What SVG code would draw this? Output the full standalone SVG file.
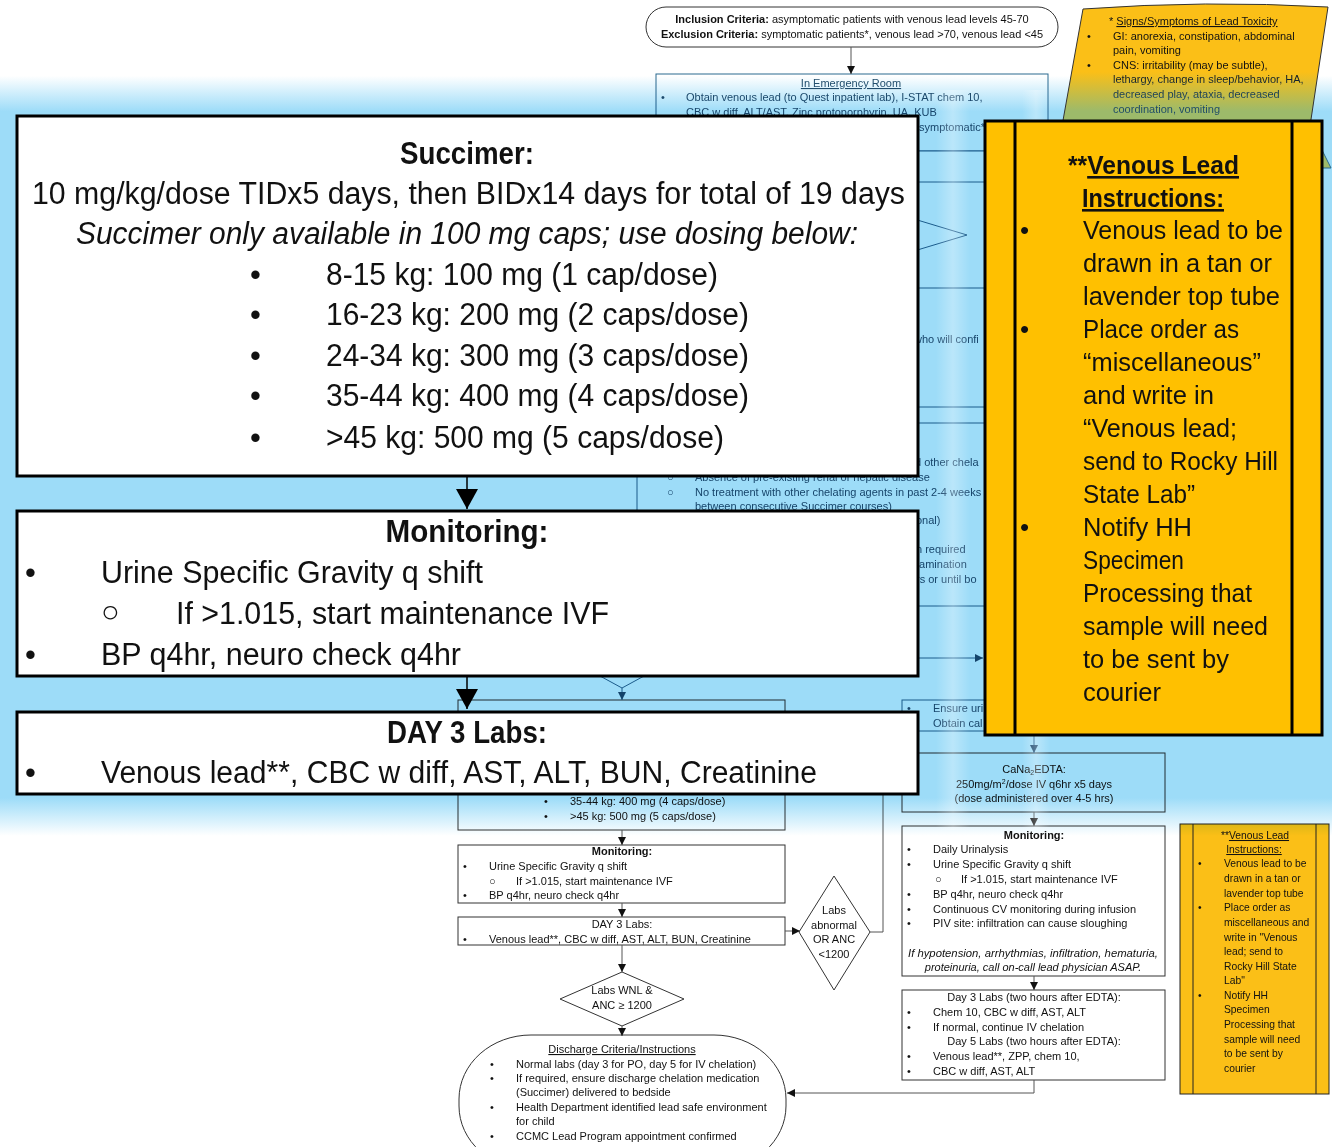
<svg xmlns="http://www.w3.org/2000/svg" width="1332" height="1147" viewBox="0 0 1332 1147">
<defs>
<style>
text{font-family:"Liberation Sans",Arial,sans-serif;fill:#111}
.s{font-size:11px}
.ys{font-size:10.3px}
.c{text-anchor:middle}
.b{font-weight:bold}
.u{text-decoration:underline}
.i{font-style:italic}
.dim{fill:#24506e}
.st{fill:url(#signtext)}
.big{font-size:31px}
.yb{font-size:26px}
.box{fill:#fff;stroke:#333;stroke-width:1}
.dbox{fill:#fff;stroke:#2a6a90;stroke-width:1}
.ov{fill:#fff;stroke:#000;stroke-width:3}
.yel{fill:#ffc000;stroke:#000;stroke-width:3}
.ysm{fill:#fbbf17;stroke:#222;stroke-width:1}
.ln{stroke:#555;stroke-width:1;fill:none}
.dln{stroke:#2a6a90;stroke-width:1;fill:none}
.blk{stroke:#000;stroke-width:1.5;fill:none}
</style>
<marker id="ah" viewBox="0 0 8 8" refX="8" refY="4" markerWidth="8" markerHeight="8" markerUnits="userSpaceOnUse" orient="auto"><path d="M0,0 L8,4 L0,8 z" fill="#111"/></marker>
<marker id="ahd" viewBox="0 0 8 8" refX="8" refY="4" markerWidth="8" markerHeight="8" markerUnits="userSpaceOnUse" orient="auto"><path d="M0,0 L8,4 L0,8 z" fill="#1f4e6e"/></marker>
<marker id="ahb" viewBox="0 0 20 22" refX="20" refY="11" markerWidth="20" markerHeight="22" markerUnits="userSpaceOnUse" orient="auto"><path d="M0,0 L20,11 L0,22 z" fill="#000"/></marker>
<linearGradient id="band" gradientUnits="userSpaceOnUse" x1="0" y1="60" x2="0" y2="850">
<stop offset="0.02" stop-color="#ffffff"/>
<stop offset="0.065" stop-color="#9ddcf8"/>
<stop offset="0.934" stop-color="#9ddcf8"/>
<stop offset="0.982" stop-color="#ffffff"/>
</linearGradient>
<linearGradient id="streak" x1="0" y1="0" x2="1" y2="0">
<stop offset="0" stop-color="#ffffff" stop-opacity="0"/>
<stop offset="0.5" stop-color="#ffffff" stop-opacity="0.3"/>
<stop offset="1" stop-color="#ffffff" stop-opacity="0"/>
</linearGradient>
<linearGradient id="signfill" gradientUnits="userSpaceOnUse" x1="0" y1="60" x2="0" y2="120">
<stop offset="0.2" stop-color="#fbbf17"/>
<stop offset="0.85" stop-color="#9dba6a"/>
</linearGradient>
<linearGradient id="signtext" gradientUnits="userSpaceOnUse" x1="0" y1="70" x2="0" y2="100">
<stop offset="0" stop-color="#111"/>
<stop offset="1" stop-color="#1d4a66"/>
</linearGradient>
</defs>
<rect x="0" y="0" width="1332" height="1147" fill="#fff"/>

<!-- underlying flowchart nodes -->
<g id="inclusion">
<rect x="646" y="7" width="412" height="40" rx="20" ry="20" class="box"/>
<text class="s c" x="852" y="23"><tspan class="b">Inclusion Criteria:</tspan> asymptomatic patients with venous lead levels 45-70</text>
<text class="s c" x="852" y="38"><tspan class="b">Exclusion Criteria:</tspan>  symptomatic patients*, venous lead &gt;70, venous lead &lt;45</text>
</g>
<g id="er">
<rect x="656" y="74" width="392" height="77" class="dbox"/>
<text class="s c u dim" x="851" y="87">In Emergency Room</text>
<text class="s dim" x="661" y="101">•</text>
<text class="s dim" x="686" y="101">Obtain venous lead (to Quest inpatient lab), I-STAT chem 10,</text>
<text class="s dim" x="686" y="116">CBC w diff, ALT/AST, Zinc protoporphyrin, UA, KUB</text>
<text class="s dim" x="919" y="131">symptomatic*</text>
</g>
<g id="hidden-box1"><rect x="640" y="151" width="400" height="31" class="dbox"/></g>
<g id="hidden-diamond1"><polygon points="851,200 967,235 851,270 735,235" class="dbox"/></g>
<g id="hidden-box2">
<rect x="640" y="288" width="400" height="119" class="dbox"/>
<text class="s dim" x="914" y="343">who will confi</text>
</g>
<g id="hidden-box3">
<rect x="637" y="423" width="403" height="183" class="dbox"/>
<text class="s dim" x="915" y="466">d other chela</text>
<text class="s dim" x="667" y="481" font-size="8">○</text>
<text class="s dim" x="695" y="481">Absence of pre-existing renal or hepatic disease</text>
<text class="s dim" x="667" y="496" font-size="8">○</text>
<text class="s dim" x="695" y="496">No treatment with other chelating agents in past 2-4 weeks</text>
<text class="s dim" x="695" y="510">between consecutive Succimer courses)</text>
<text class="s dim" x="916" y="524">onal)</text>
<text class="s dim" x="916" y="553">n required</text>
<text class="s dim" x="916" y="568">tamination</text>
<text class="s dim" x="916" y="583">rs or until bo</text>
</g>
<g id="hidden-diamond2"><polygon points="622,640 666,664 622,688 578,664" class="dbox"/></g>
<g id="ensure">
<rect x="902" y="700" width="110" height="31" class="dbox"/>
<text class="s dim" x="907" y="712">•</text>
<text class="s dim" x="933" y="712">Ensure uri</text>
<text class="s dim" x="933" y="727">Obtain cal</text>
</g>
<g id="succimer-small">
<rect x="458" y="700" width="327" height="130" class="box"/>
<text class="s" x="544" y="805">•</text><text class="s" x="570" y="805">35-44 kg: 400 mg (4 caps/dose)</text>
<text class="s" x="544" y="820">•</text><text class="s" x="570" y="820">&gt;45 kg: 500 mg (5 caps/dose)</text>
</g>
<g id="monitoring-small">
<rect x="458" y="845" width="327" height="58" class="box"/>
<text class="s c b" x="622" y="855">Monitoring:</text>
<text class="s" x="463" y="870">•</text><text class="s" x="489" y="870">Urine Specific Gravity q shift</text>
<text class="s" x="489" y="885" font-size="8">○</text><text class="s" x="516" y="885">If &gt;1.015, start maintenance IVF</text>
<text class="s" x="463" y="899">•</text><text class="s" x="489" y="899">BP q4hr, neuro check q4hr</text>
</g>
<g id="day3-small">
<rect x="458" y="917" width="327" height="28" class="box"/>
<text class="s c" x="622" y="928">DAY 3 Labs:</text>
<text class="s" x="463" y="943">•</text><text class="s" x="489" y="943">Venous lead**, CBC w diff, AST, ALT, BUN, Creatinine</text>
</g>
<g id="labs-abnormal">
<polygon points="834,876 870,932 834,990 799,932" class="box"/>
<text class="s c" x="834" y="914">Labs</text>
<text class="s c" x="834" y="929">abnormal</text>
<text class="s c" x="834" y="943">OR ANC</text>
<text class="s c" x="834" y="958">&lt;1200</text>
</g>
<g id="labs-wnl">
<polygon points="560,999 622,972 684,999 622,1026" class="box"/>
<text class="s c" x="622" y="994">Labs WNL &amp;</text>
<text class="s c" x="622" y="1009">ANC ≥ 1200</text>
</g>
<g id="discharge">
<rect x="459" y="1035" width="327" height="135" rx="72" ry="64" class="box"/>
<text class="s c u" x="622" y="1053">Discharge Criteria/Instructions</text>
<text class="s" x="490" y="1068">•</text><text class="s" x="516" y="1068">Normal labs (day 3 for PO, day 5 for IV chelation)</text>
<text class="s" x="490" y="1082">•</text><text class="s" x="516" y="1082">If required, ensure discharge chelation medication</text>
<text class="s" x="516" y="1096">(Succimer) delivered to bedside</text>
<text class="s" x="490" y="1111">•</text><text class="s" x="516" y="1111">Health Department identified lead safe environment</text>
<text class="s" x="516" y="1125">for child</text>
<text class="s" x="490" y="1140">•</text><text class="s" x="516" y="1140">CCMC Lead Program appointment confirmed</text>
</g>
<g id="cana">
<rect x="902" y="753" width="263" height="59" class="box"/>
<text class="s c" x="1034" y="773">CaNa<tspan font-size="7" dy="2">2</tspan><tspan dy="-2">EDTA:</tspan></text>
<text class="s c" x="1034" y="788">250mg/m<tspan font-size="7" dy="-4">2</tspan><tspan dy="4">/dose IV q6hr x5 days</tspan></text>
<text class="s c" x="1034" y="802">(dose administered over 4-5 hrs)</text>
</g>
<g id="monitoring-iv">
<rect x="902" y="826" width="263" height="150" class="box"/>
<text class="s c b" x="1034" y="839">Monitoring:</text>
<text class="s" x="907" y="853">•</text><text class="s" x="933" y="853">Daily Urinalysis</text>
<text class="s" x="907" y="868">•</text><text class="s" x="933" y="868">Urine Specific Gravity q shift</text>
<text class="s" x="935" y="883" font-size="8">○</text><text class="s" x="961" y="883">If &gt;1.015, start maintenance IVF</text>
<text class="s" x="907" y="898">•</text><text class="s" x="933" y="898">BP q4hr, neuro check q4hr</text>
<text class="s" x="907" y="913">•</text><text class="s" x="933" y="913">Continuous CV monitoring during infusion</text>
<text class="s" x="907" y="927">•</text><text class="s" x="933" y="927">PIV site: infiltration can cause sloughing</text>
<text class="s c i" x="1033" y="957" textLength="250" lengthAdjust="spacingAndGlyphs">If hypotension, arrhythmias, infiltration, hematuria,</text>
<text class="s c i" x="1033" y="971">proteinuria, call on-call lead physician ASAP.</text>
</g>
<g id="day35-labs">
<rect x="902" y="990" width="263" height="90" class="box"/>
<text class="s c" x="1034" y="1001">Day 3 Labs (two hours after EDTA):</text>
<text class="s" x="907" y="1016">•</text><text class="s" x="933" y="1016">Chem 10, CBC w diff, AST, ALT</text>
<text class="s" x="907" y="1031">•</text><text class="s" x="933" y="1031">If normal, continue IV chelation</text>
<text class="s c" x="1034" y="1045">Day 5 Labs (two hours after EDTA):</text>
<text class="s" x="907" y="1060">•</text><text class="s" x="933" y="1060">Venous lead**, ZPP, chem 10,</text>
<text class="s" x="907" y="1075">•</text><text class="s" x="933" y="1075">CBC w diff, AST, ALT</text>
</g>
<g id="venous-small">
<rect x="1180" y="824" width="149" height="270" class="ysm"/>
<line x1="1193" y1="824" x2="1193" y2="1094" stroke="#222"/>
<line x1="1316" y1="824" x2="1316" y2="1094" stroke="#222"/>
<text class="ys c" x="1255" y="839">**<tspan class="u">Venous Lead</tspan></text>
<text class="ys c u" x="1254" y="853">Instructions:</text>
<text class="ys" x="1198" y="867">•</text><text class="ys" x="1224" y="867">Venous lead to be</text>
<text class="ys" x="1224" y="882">drawn in a tan or</text>
<text class="ys" x="1224" y="897">lavender top tube</text>
<text class="ys" x="1198" y="911">•</text><text class="ys" x="1224" y="911">Place order as</text>
<text class="ys" x="1224" y="926">miscellaneous and</text>
<text class="ys" x="1224" y="941">write in "Venous</text>
<text class="ys" x="1224" y="955">lead; send to</text>
<text class="ys" x="1224" y="970">Rocky Hill State</text>
<text class="ys" x="1224" y="984">Lab"</text>
<text class="ys" x="1198" y="999">•</text><text class="ys" x="1224" y="999">Notify HH</text>
<text class="ys" x="1224" y="1013">Specimen</text>
<text class="ys" x="1224" y="1028">Processing that</text>
<text class="ys" x="1224" y="1043">sample will need</text>
<text class="ys" x="1224" y="1057">to be sent by</text>
<text class="ys" x="1224" y="1072">courier</text>
</g>

<!-- connectors -->
<g id="connectors">
<line x1="851" y1="47" x2="851" y2="74" class="ln" marker-end="url(#ah)"/>
<line x1="622" y1="688" x2="622" y2="700" class="dln" marker-end="url(#ahd)"/>
<line x1="900" y1="658" x2="983" y2="658" class="dln" marker-end="url(#ahd)"/>
<line x1="1034" y1="731" x2="1034" y2="753" class="dln" marker-end="url(#ahd)"/>
<line x1="622" y1="830" x2="622" y2="845" class="ln" marker-end="url(#ah)"/>
<line x1="622" y1="903" x2="622" y2="917" class="ln" marker-end="url(#ah)"/>
<line x1="785" y1="931" x2="800" y2="931" class="ln" marker-end="url(#ah)"/>
<line x1="622" y1="945" x2="622" y2="972" class="ln" marker-end="url(#ah)"/>
<line x1="622" y1="1026" x2="622" y2="1036" class="ln" marker-end="url(#ah)"/>
<polyline points="870,932 883,932 883,760" class="ln"/>
<line x1="1034" y1="812" x2="1034" y2="826" class="ln" marker-end="url(#ah)"/>
<line x1="1034" y1="976" x2="1034" y2="990" class="ln" marker-end="url(#ah)"/>
<polyline points="1034,1080 1034,1093 787,1093" class="ln" marker-end="url(#ah)"/>
</g>

<!-- blue highlight band -->
<rect x="0" y="60" width="1332" height="790" fill="url(#band)" style="mix-blend-mode:multiply"/>
<rect x="936" y="90" width="34" height="740" fill="url(#streak)"/>
<rect x="1022" y="90" width="28" height="740" fill="url(#streak)"/>

<g id="signs">
<path d="M1083,9 Q1205,0 1328,7 L1310,126 L1062,126 Z" fill="url(#signfill)" stroke="#333" stroke-width="1"/>
<polygon points="1322,150 1331,168 1322,168" fill="#9dba6a" stroke="#2a6a90" stroke-width="1"/>
<text class="s st" x="1109" y="25">* <tspan class="u">Signs/Symptoms of Lead Toxicity</tspan></text>
<text class="s st" x="1087" y="40">•</text><text class="s st" x="1113" y="40">GI: anorexia, constipation, abdominal</text>
<text class="s st" x="1113" y="54">pain, vomiting</text>
<text class="s st" x="1087" y="69">•</text><text class="s st" x="1113" y="69">CNS: irritability (may be subtle),</text>
<text class="s st" x="1113" y="83">lethargy, change in sleep/behavior, HA,</text>
<text class="s st" x="1113" y="98">decreased play, ataxia, decreased</text>
<text class="s st" x="1113" y="113">coordination, vomiting</text>
</g>

<!-- magnified overlays -->
<g id="overlay-connectors">
<line x1="467" y1="476" x2="467" y2="509" class="blk" marker-end="url(#ahb)"/>
<line x1="467" y1="676" x2="467" y2="709" class="blk" marker-end="url(#ahb)"/>
</g>
<g id="succimer">
<rect x="17" y="116" width="901" height="360" class="ov"/>
<text class="big c b" x="467" y="164" textLength="134" lengthAdjust="spacingAndGlyphs">Succimer:</text>
<text class="big" x="32" y="204" textLength="873" lengthAdjust="spacingAndGlyphs">10 mg/kg/dose TIDx5 days, then BIDx14 days for total of 19 days</text>
<text class="big i" x="76" y="244" textLength="782" lengthAdjust="spacingAndGlyphs">Succimer only available in 100 mg caps; use dosing below:</text>
<text class="big" x="250" y="285">•</text><text class="big" x="326" y="285" textLength="392" lengthAdjust="spacingAndGlyphs">8-15 kg: 100 mg (1 cap/dose)</text>
<text class="big" x="250" y="325">•</text><text class="big" x="326" y="325" textLength="423" lengthAdjust="spacingAndGlyphs">16-23 kg: 200 mg (2 caps/dose)</text>
<text class="big" x="250" y="366">•</text><text class="big" x="326" y="366" textLength="423" lengthAdjust="spacingAndGlyphs">24-34 kg: 300 mg (3 caps/dose)</text>
<text class="big" x="250" y="406">•</text><text class="big" x="326" y="406" textLength="423" lengthAdjust="spacingAndGlyphs">35-44 kg: 400 mg (4 caps/dose)</text>
<text class="big" x="250" y="448">•</text><text class="big" x="326" y="448" textLength="398" lengthAdjust="spacingAndGlyphs">&gt;45 kg: 500 mg (5 caps/dose)</text>
</g>
<g id="monitoring">
<rect x="17" y="511" width="901" height="165" class="ov"/>
<text class="big c b" x="467" y="542" textLength="163" lengthAdjust="spacingAndGlyphs">Monitoring:</text>
<text class="big" x="25" y="583">•</text><text class="big" x="101" y="583" textLength="382" lengthAdjust="spacingAndGlyphs">Urine Specific Gravity q shift</text>
<text class="big" x="101" y="622" font-size="22">○</text><text class="big" x="176" y="624" textLength="433" lengthAdjust="spacingAndGlyphs">If &gt;1.015, start maintenance IVF</text>
<text class="big" x="25" y="665">•</text><text class="big" x="101" y="665" textLength="360" lengthAdjust="spacingAndGlyphs">BP q4hr, neuro check q4hr</text>
</g>
<g id="day3">
<rect x="17" y="712" width="901" height="82" class="ov"/>
<text class="big c b" x="467" y="743" textLength="160" lengthAdjust="spacingAndGlyphs">DAY 3 Labs:</text>
<text class="big" x="25" y="783">•</text><text class="big" x="101" y="783" textLength="716" lengthAdjust="spacingAndGlyphs">Venous lead**, CBC w diff, AST, ALT, BUN, Creatinine</text>
</g>
<g id="venous-lead">
<rect x="985" y="121" width="337" height="614" class="yel"/>
<line x1="1015" y1="121" x2="1015" y2="735" stroke="#000" stroke-width="3"/>
<line x1="1292" y1="121" x2="1292" y2="735" stroke="#000" stroke-width="3"/>
<text class="yb b" x="1068" y="174" textLength="171" lengthAdjust="spacingAndGlyphs">**<tspan class="u">Venous Lead</tspan></text>
<text class="yb b u" x="1082" y="207" textLength="142" lengthAdjust="spacingAndGlyphs">Instructions:</text>
<text class="yb" x="1020" y="239">•</text><text class="yb" x="1083" y="239" textLength="200" lengthAdjust="spacingAndGlyphs">Venous lead to be</text>
<text class="yb" x="1083" y="272" textLength="189" lengthAdjust="spacingAndGlyphs">drawn in a tan or</text>
<text class="yb" x="1083" y="305" textLength="197" lengthAdjust="spacingAndGlyphs">lavender top tube</text>
<text class="yb" x="1020" y="338">•</text><text class="yb" x="1083" y="338" textLength="156" lengthAdjust="spacingAndGlyphs">Place order as</text>
<text class="yb" x="1083" y="371" textLength="178" lengthAdjust="spacingAndGlyphs">“miscellaneous”</text>
<text class="yb" x="1083" y="404" textLength="131" lengthAdjust="spacingAndGlyphs">and write in</text>
<text class="yb" x="1083" y="437" textLength="154" lengthAdjust="spacingAndGlyphs">“Venous lead;</text>
<text class="yb" x="1083" y="470" textLength="195" lengthAdjust="spacingAndGlyphs">send to Rocky Hill</text>
<text class="yb" x="1083" y="503" textLength="112" lengthAdjust="spacingAndGlyphs">State Lab”</text>
<text class="yb" x="1020" y="536">•</text><text class="yb" x="1083" y="536" textLength="109" lengthAdjust="spacingAndGlyphs">Notify HH</text>
<text class="yb" x="1083" y="569" textLength="101" lengthAdjust="spacingAndGlyphs">Specimen</text>
<text class="yb" x="1083" y="602" textLength="169" lengthAdjust="spacingAndGlyphs">Processing that</text>
<text class="yb" x="1083" y="635" textLength="185" lengthAdjust="spacingAndGlyphs">sample will need</text>
<text class="yb" x="1083" y="668" textLength="146" lengthAdjust="spacingAndGlyphs">to be sent by</text>
<text class="yb" x="1083" y="701" textLength="78" lengthAdjust="spacingAndGlyphs">courier</text>
</g>
</svg>
